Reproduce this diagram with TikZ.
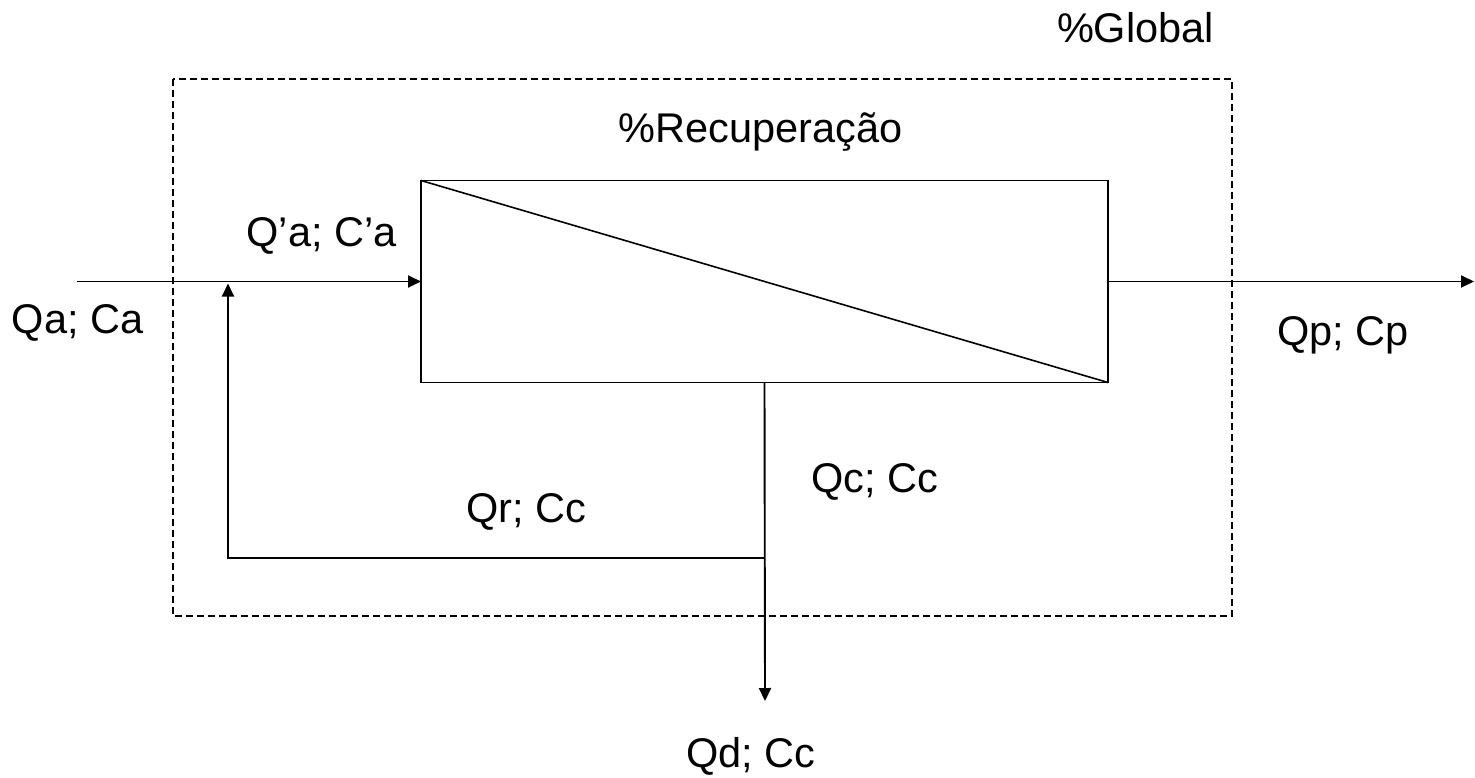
\documentclass[tikz,border=0pt]{standalone}
\usepackage{fontspec}
\setmainfont{Liberation Sans}
\usetikzlibrary{arrows.meta}
\begin{document}
\begin{tikzpicture}[x=1pt,y=-1pt,
  lbl/.style={font=\fontsize{41.5}{50}\selectfont, anchor=base, inner sep=0pt},
  unit/.style={draw, line width=1.8pt, minimum width=687pt, minimum height=202pt, inner sep=0pt, outer sep=0pt},
  flow/.style={line width=1.9pt, -{Triangle[length=13pt,width=12pt]}},
  bound/.style={line width=1.4pt, dash pattern=on 7pt off 4pt}]
\useasboundingbox (0,0) rectangle (1475,778);
% system boundary
\draw[bound] (173,79) rectangle (1232,616);
% membrane unit
\node[unit] (box) at (764.5,281.5) {};
\draw[line width=1.6pt] (box.north west) -- (box.south east);
% coordinates
\coordinate (in) at (77,281.5);
\coordinate (out) at (1474,281.5);
\coordinate (dout) at (765,701);
\coordinate (j) at (box.south |- 0,558);
\coordinate (rc) at (228,558);
\coordinate (mix) at (228,283.5);
% flows
\draw[flow] (in) -- (box.west);
\draw[flow] (box.east) -- (out);
\draw[flow] (box.south) -- (dout);
\draw[flow] (j) -- (rc) -- (mix);
% labels
\node[lbl] (global) at (1135.5,43) {\%Global};
\node[lbl] (rec) at (760.5,143) {\%Recuperação};
\node[lbl] (qal) at (321.5,247) {Q’a; C’a};
\node[lbl] (qa) at (77.5,333) {Qa; Ca};
\node[lbl] (qp) at (1343,345) {Qp; Cp};
\node[lbl] (qc) at (874.5,492) {Qc; Cc};
\node[lbl] (qr) at (526.5,522) {Qr; Cc};
\node[lbl] (qd) at (751,767) {Qd; Cc};
\end{tikzpicture}
\end{document}
